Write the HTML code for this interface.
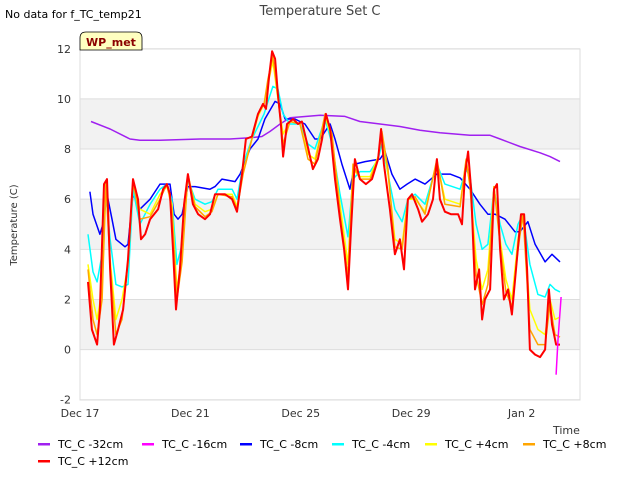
<!DOCTYPE html>
<html><head><meta charset="utf-8"><style>
body{margin:0;background:#fff;font-family:"Liberation Sans","DejaVu Sans",sans-serif;}
svg text{font-family:"DejaVu Sans","Liberation Sans",sans-serif;}
</style></head><body>
<svg id="chart" width="640" height="480" viewBox="0 0 640 480">
<rect x="0" y="0" width="640" height="480" fill="#fff"/>
<g id="bands"></g>
<g id="grid"></g>
<rect x="80" y="49" width="500" height="351" fill="none" stroke="#ddd"/>
<g id="series"></g>
<g id="yticks"></g>
<g id="xticks"></g>
<text x="320" y="15" text-anchor="middle" font-size="13" fill="#444">Temperature Set C</text>
<text x="5" y="18" font-size="11" fill="#000">No data for f_TC_temp21</text>
<path d="M80,50 L80,38 Q80,32 86,32 L136,32 Q142,32 142,38 L142,50 Z" fill="#ffffc0" stroke="#000" stroke-width="0.8"/>
<text x="111" y="46" text-anchor="middle" font-size="11" font-weight="bold" fill="#8b0000">WP_met</text>
<text transform="translate(17,225) rotate(-90)" text-anchor="middle" font-size="10" fill="#333">Temperature (C)</text>
<text x="553" y="434" font-size="11" fill="#333">Time</text>
<rect x="540" y="436" width="60" height="10" fill="#fff"/>
<g id="legend"></g>
</svg>
<script>
const NS="http://www.w3.org/2000/svg";
const yTicks=[-2,0,2,4,6,8,10,12];
const xTickDays=[0,4,8,12,16];
const xTickLabels=["Dec 17","Dec 21","Dec 25","Dec 29","Jan 2"];
const gridDays=[0.29,0.47,0.62,0.80,0.94,1.09,1.30,1.52,1.74,1.92,2.17,2.54,2.90,3.15,3.33,3.51,3.70,3.91,4.17,4.53,4.78,5.00,5.51,5.69,5.91,6.23,6.45,6.67,6.81,6.99,7.17,7.36,7.61,7.97,8.26,8.51,8.88,9.13,9.42,9.71,9.89,10.14,10.51,10.80,10.94,11.16,11.41,11.67,11.88,12.14,12.50,12.93,13.22,13.77,13.99,14.13,14.35,14.57,14.78,15.00,15.22,15.43,15.65,15.87,16.05,16.30,16.59,16.85,17.03,17.21,17.39];
const cyanVals=[4.6,3.1,2.7,3.8,6.2,4.4,2.6,2.5,2.6,6.4,5.0,5.8,6.4,6.6,6.0,3.4,4.2,6.8,6.0,5.8,5.9,6.4,6.4,6.0,7.4,8.4,8.9,9.4,9.9,10.5,10.4,9.4,9.0,9.0,8.2,8.0,9.2,8.2,6.2,4.5,6.8,7.1,7.1,7.6,8.2,7.0,5.6,5.1,6.0,6.2,5.8,7.4,6.6,6.4,7.2,6.9,5.0,4.0,4.2,6.4,5.0,4.2,3.8,5.0,5.4,3.4,2.2,2.1,2.6,2.4,2.3];
const yellowVals=[3.4,2.0,1.2,2.4,6.6,3.6,1.2,2.0,3.4,6.6,5.6,5.4,6.2,6.5,5.8,2.4,3.8,6.9,5.8,5.5,5.6,6.2,6.2,5.7,7.1,8.4,9.3,9.8,10.6,11.5,10.0,8.6,9.1,9.0,7.8,7.6,9.3,8.4,5.8,3.4,7.2,6.9,6.9,7.7,8.6,7.0,4.4,4.2,6.0,6.0,5.5,7.5,6.0,5.8,7.5,6.6,3.6,2.4,3.2,6.5,4.4,2.8,2.0,4.4,5.4,1.6,0.8,0.6,2.0,1.2,1.3];
const orangeVals=[3.2,1.2,0.6,2.0,6.7,3.4,0.6,1.2,3.5,6.7,5.2,5.3,6.0,6.6,5.6,2.0,3.5,7.0,5.7,5.3,5.5,6.2,6.1,5.6,7.0,8.4,9.4,9.8,10.8,11.7,10.1,8.2,9.1,9.0,7.6,7.4,9.4,8.6,5.5,2.9,7.4,6.8,6.8,7.6,8.7,7.2,4.1,4.0,6.0,6.1,5.4,7.6,5.8,5.7,7.6,6.5,3.0,1.8,2.6,6.5,4.2,2.3,1.7,4.0,5.4,0.8,0.2,0.2,1.8,0.6,0.5];
const redDays=[0.29,0.43,0.62,0.72,0.87,0.98,1.09,1.23,1.38,1.56,1.74,1.92,2.10,2.21,2.36,2.54,2.83,3.01,3.15,3.26,3.37,3.48,3.62,3.77,3.91,4.09,4.28,4.53,4.71,4.89,5.25,5.51,5.69,5.87,6.01,6.23,6.45,6.63,6.74,6.85,6.96,7.07,7.17,7.28,7.36,7.50,7.72,7.90,8.04,8.19,8.44,8.62,8.77,8.91,9.06,9.24,9.42,9.57,9.71,9.82,9.96,10.14,10.36,10.58,10.80,10.91,11.01,11.23,11.41,11.59,11.74,11.88,12.03,12.25,12.39,12.61,12.79,12.93,13.04,13.22,13.44,13.70,13.84,13.95,14.06,14.17,14.31,14.46,14.57,14.67,14.86,15.00,15.11,15.22,15.36,15.51,15.65,15.83,15.98,16.09,16.20,16.30,16.49,16.67,16.85,16.99,17.10,17.25,17.39];
const redVals=[2.7,0.8,0.2,1.6,6.6,6.8,3.2,0.2,0.8,1.6,3.6,6.8,6.0,4.4,4.6,5.2,5.6,6.4,6.6,6.2,4.0,1.6,3.2,5.8,7.0,5.8,5.4,5.2,5.4,6.2,6.2,6.0,5.5,7.0,8.4,8.5,9.4,9.8,9.6,10.9,11.9,11.6,10.2,9.0,7.7,9.0,9.2,9.0,9.1,8.4,7.2,7.6,8.4,9.4,8.8,6.8,5.2,4.0,2.4,4.8,7.6,6.8,6.6,6.8,7.6,8.8,7.4,5.6,3.8,4.4,3.2,6.0,6.2,5.6,5.1,5.4,6.0,7.6,6.0,5.5,5.4,5.4,5.0,7.0,7.9,6.4,2.4,3.2,1.2,2.0,2.4,6.4,6.6,4.0,2.0,2.4,1.4,3.6,5.4,5.4,3.2,0.0,-0.2,-0.3,0.0,2.4,1.0,0.2,0.2];
const blueDays=[0.36,0.47,0.72,0.83,0.98,1.16,1.30,1.63,1.74,1.92,2.17,2.54,2.90,3.26,3.41,3.55,3.70,3.91,4.17,4.71,4.89,5.14,5.62,5.80,6.16,6.45,6.70,7.07,7.25,7.43,7.79,8.15,8.51,8.70,9.06,9.24,9.49,9.78,9.96,10.33,10.87,11.05,11.30,11.59,11.85,12.14,12.50,12.93,13.41,13.77,14.13,14.49,14.78,15.04,15.40,15.76,15.94,16.23,16.49,16.85,17.10,17.39];
const blueVals=[6.3,5.4,4.6,5.0,6.2,5.2,4.4,4.1,4.2,6.2,5.6,6.0,6.6,6.6,5.4,5.2,5.4,6.5,6.5,6.4,6.5,6.8,6.7,7.0,8.0,8.4,9.2,9.9,9.8,9.2,9.2,9.0,8.4,8.4,9.0,8.4,7.4,6.4,7.4,7.5,7.6,7.9,7.0,6.4,6.6,6.8,6.6,7.0,7.0,6.85,6.4,5.8,5.4,5.4,5.2,4.7,4.7,5.1,4.2,3.5,3.8,3.5];
const purpleDays=[0.40,1.09,1.81,2.17,2.90,4.35,5.43,6.16,6.59,6.88,7.25,7.61,8.70,9.60,10.14,10.87,11.59,12.32,13.04,14.13,14.86,15.22,15.94,16.67,17.03,17.39];
const purpleVals=[9.1,8.8,8.4,8.35,8.35,8.4,8.4,8.45,8.5,8.7,9.0,9.25,9.35,9.3,9.1,9.0,8.9,8.75,8.65,8.55,8.55,8.4,8.1,7.85,7.7,7.5];
const magentaDays=[17.25,17.32,17.43];
const magentaVals=[-1.0,0.4,2.1];
const legendLabels=["TC_C -32cm","TC_C -16cm","TC_C -8cm","TC_C -4cm","TC_C +4cm","TC_C +8cm","TC_C +12cm"];
const legendColors=["#a020f0","#ff00ff","#0000ff","#00ffff","#ffff00","#ffa500","#ff0000"];

const X=d=>80+d*27.6;
const Y=v=>349.6-v*25.07;
function el(tag,attrs,parent){const e=document.createElementNS(NS,tag);for(const k in attrs)e.setAttribute(k,attrs[k]);parent.appendChild(e);return e;}
const bands=document.getElementById('bands'),grid=document.getElementById('grid');
for(const lo of [0,4,8]){
  const r=el('rect',{x:80,y:Y(lo+2),width:500,height:Y(lo)-Y(lo+2),fill:'#f2f2f2'},bands);
  
  
}
const yt=document.getElementById('yticks');
for(const v of yTicks){
  const l=el('line',{x1:80,x2:580,y1:Y(v),y2:Y(v),stroke:'#ddd','stroke-width':1},grid);
  
  
  const t=el('text',{x:71,y:Y(v)+4,'text-anchor':'end','font-size':11,fill:'#333'},yt);
  t.textContent=v;
  
  
}
const xt=document.getElementById('xticks');
xTickDays.forEach((d,i)=>{
  const t=el('text',{x:X(d),y:417,'text-anchor':'middle','font-size':11,fill:'#333'},xt);
  t.textContent=xTickLabels[i];
  
  
});
const sg=document.getElementById('series');
function line(days,vals,color,name,w){
  const p=el('polyline',{points:days.map((d,i)=>X(d).toFixed(1)+','+Y(vals[i]).toFixed(1)).join(' '),fill:'none',stroke:color,'stroke-width':w,'stroke-linejoin':'round'},sg);
  
  
}
line(purpleDays,purpleVals,'#a020f0','series-minus-32cm',1.5);
line(blueDays,blueVals,'#0000ff','series-minus-8cm',1.5);
line(gridDays,cyanVals,'#00ffff','series-minus-4cm',1.5);
line(gridDays,yellowVals,'#ffff00','series-plus-4cm',1.5);
line(gridDays,orangeVals,'#ffa500','series-plus-8cm',1.5);
line(redDays,redVals,'#ff0000','series-plus-12cm',2);
line(magentaDays,magentaVals,'#ff00ff','series-minus-16cm',1.5);
const lg=document.getElementById('legend');
const lx=[38,142,240,332,425,523,38],ly=[444,444,444,444,444,444,461];
legendLabels.forEach((s,i)=>{
  const r=el('rect',{x:lx[i],y:ly[i]-1,width:12,height:2.5,fill:legendColors[i]},lg);
  
  
  const t=el('text',{x:lx[i]+20,y:ly[i]+4,'font-size':11,fill:'#000'},lg);
  t.textContent=s;
  
  
});
</script>
</body></html>
